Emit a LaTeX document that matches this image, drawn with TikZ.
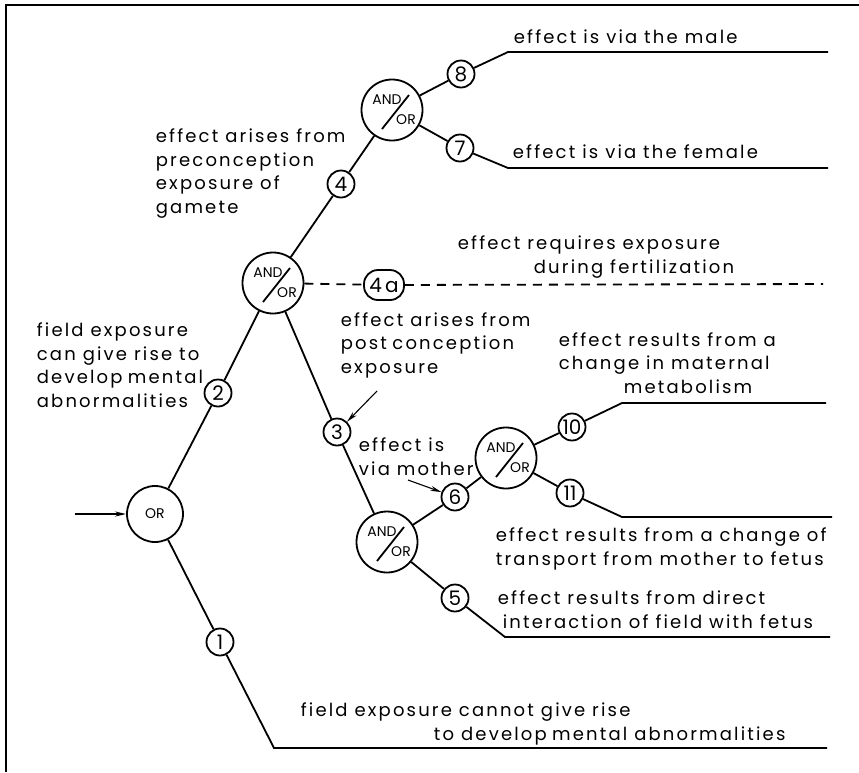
\documentclass[tikz,border=0pt]{standalone}
\usepackage{fontspec}
\setmainfont{Poppins}
\newfontfamily\lettering[LetterSpace=12]{Poppins}
\usetikzlibrary{arrows.meta,positioning,shapes.geometric,calc}

\newcommand{\capfont}{\lettering\fontsize{18}{23.5}\selectfont}
\newcommand{\numfont}{\fontsize{20}{20}\selectfont}
\newcommand{\gatefont}{\fontsize{14}{14}\selectfont}

\tikzset{
  num/.style={circle,draw,minimum size=27pt,inner sep=0pt,font=\numfont},
  orgate/.style={circle,draw,minimum size=56pt,inner sep=0pt,font=\gatefont},
  andor/.style={circle,draw,minimum size=61pt,inner sep=0pt,
    path picture={
      \node[font=\gatefont,inner sep=0pt] at ($(path picture bounding box.center)+(-5,-10)$) {AND};
      \node[font=\gatefont,inner sep=0pt] at ($(path picture bounding box.center)+(14,10)$) {OR};
      \draw ($(path picture bounding box.center)+(-10,19)$) -- ($(path picture bounding box.center)+(17,-15)$);
    }},
  % multi-line captions are placed by the baseline of their last line
  caption/.style={anchor=base west,align=left,inner sep=0pt,font=\capfont},
  pointer/.style={-{Stealth[length=11pt,width=5pt]}},
}

\begin{document}
\begin{tikzpicture}[x=1pt,y=-1pt,line width=1.8pt]
  \useasboundingbox (0,0) rectangle (859,772);

  % ---- frame (left and top edge only) -------------------------
  \draw[line width=1.8pt] (6,772) -- (6,5) -- (859,5);

  % ============================================================
  %  gates and numbered events
  % ============================================================
  \node[orgate] (gOR) at (155,514) {OR};
  \node[num]    (n1)  at (220,642) {1};
  \node[num]    (n2)  at (218,393) {2};
  \node[andor]  (gA)  at (273,283) {};
  \node[num]    (n4)  at (341,184) {4};
  \node[draw,rounded corners=14pt,minimum width=40pt,minimum height=30pt,inner sep=0pt,font=\numfont]
                (n4a) at (384,285) {4\,a};
  \node[andor]  (gB)  at (392,110) {};
  \node[num]    (n8)  at (461,74)  {8};
  \node[num]    (n7)  at (460,148) {7};
  \node[num]    (n3)  at (337,432) {3};
  \node[andor]  (gC)  at (387,542) {};
  \node[num]    (n6)  at (455,497) {6};
  \node[num]    (n5)  at (455,598) {5};
  \node[andor]  (gD)  at (506,458) {};
  \node[num]    (n10) at (572,427) {10};
  \node[num]    (n11) at (570,493) {11};

  % bends and line ends
  \coordinate (in)  at (75,514);
  \coordinate (b8)  at (508,52);   \coordinate (e8)  at (828,52);
  \coordinate (b7)  at (508,168);  \coordinate (e7)  at (828,168);
  \coordinate (e4a) at (823,284);
  \coordinate (b10) at (622,403);  \coordinate (e10) at (826,403);
  \coordinate (b11) at (622,517);  \coordinate (e11) at (832,517);
  \coordinate (b5)  at (505,637);  \coordinate (e5)  at (830,637);
  \coordinate (b1)  at (274,748);  \coordinate (e1)  at (827,748);
  \coordinate (p3)  at (377,391);
  \coordinate (p6)  at (408,480);

  % ---- branches ------------------------------------------------
  \draw[pointer] (in) -- (gOR);
  \draw (gOR) -- (n2) -- (gA) -- (n4) -- (gB);
  \draw (gB) -- (n8) -- (b8) -- (e8);
  \draw (gB) -- (n7) -- (b7) -- (e7);
  \draw[dash pattern=on 9pt off 7pt] (gA) -- (n4a);
  \draw[dash pattern=on 9pt off 7pt] (n4a) -- (e4a);
  \draw (gA) -- (n3) -- (gC);
  \draw (gC) -- (n6) -- (gD);
  \draw (gD) -- (n10) -- (b10) -- (e10);
  \draw (gD) -- (n11) -- (b11) -- (e11);
  \draw (gC) -- (n5) -- (b5) -- (e5);
  \draw (gOR) -- (n1) -- (b1) -- (e1);
  \draw[pointer,line width=1.1pt] (p3) -- (n3);
  \draw[pointer,line width=1.1pt] (p6) -- (n6);

  % ---- captions ------------------------------------------------
  \node[caption] (t8)  at (513,43)  {effect is via the male};
  \node[caption] (t7)  at (512,158) {effect is via the female};
  \node[caption] (t4a) at (457,273)
    {effect requires exposure\\\hspace*{76pt}during fertilization};
  \node[caption] (t4)  at (155,213)
    {effect arises from\\preconception\\exposure of\\gamete};
  \node[caption] (t2)  at (36,407)
    {field exposure\\can give rise to\\develop\hspace{0.3em}mental\\abnormalities};
  \node[caption] (t3)  at (340,373)
    {effect arises from\\post\hspace{0.3em}conception\\exposure};
  \node[caption] (tm)  at (358,475) {effect is\\via mother};
  \node[caption] (t10) at (558,393)
    {effect results from a\\change in maternal\\\hspace*{65pt}metabolism};
  \node[caption] (t11) at (495,565)
    {effect results from a change of\\transport from mother to fetus};
  \node[caption] (t5)  at (497,628)
    {effect results from direct\\\hspace*{5pt}interaction of field with fetus};
  \node[caption] (t1)  at (300,740)
    {field exposure cannot give rise\\\hspace*{133pt}to develop\hspace{0.3em}mental abnormalities};

\end{tikzpicture}
\end{document}
